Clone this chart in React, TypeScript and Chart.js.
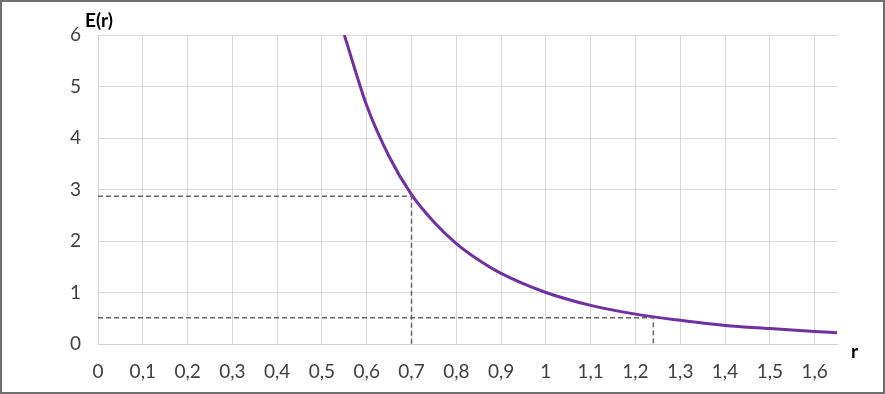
import React, { useEffect, useRef } from "react";
import { Chart, registerables } from "chart.js";

Chart.register(...registerables);

const rValues = [0.55, 0.6, 0.65, 0.7, 0.75, 0.8, 0.85, 0.9, 1.0, 1.1, 1.2, 1.3, 1.4, 1.5, 1.6, 1.65];
const eValues = [6.0, 4.63, 3.64, 2.9, 2.37, 1.95, 1.63, 1.37, 1.0, 0.75, 0.58, 0.46, 0.36, 0.3, 0.245, 0.22];

const xTickValues = [0, 0.1, 0.2, 0.3, 0.4, 0.5, 0.6, 0.7, 0.8, 0.9, 1, 1.1, 1.2, 1.3, 1.4, 1.5, 1.6];

const guide1X = [0, 0.7, 0.7];
const guide1Y = [2.87, 2.87, 0];
const guide2X = [0, 1.24, 1.24];
const guide2Y = [0.51, 0.51, 0];

const xMin = 0;
const xMax = 1.65;
const yMin = 0;
const yMax = 6;
const yStep = 1;

const toPoints = (xs: number[], ys: number[]) => xs.map((x, i) => ({ x, y: ys[i] }));

export default function App() {
  const canvasRef = useRef<HTMLCanvasElement | null>(null);

  useEffect(() => {
    document.body.style.margin = "0";
    const canvas = canvasRef.current;
    if (!canvas) return;
    const font = { family: "Lato, 'Open Sans', sans-serif", size: 19 };
    const guideStyle = {
      borderColor: "#666666",
      borderWidth: 1.5,
      borderDash: [5, 3],
      pointRadius: 0,
      showLine: true,
      fill: false,
      tension: 0,
    };
    const chart = new Chart(canvas, {
      type: "scatter",
      data: {
        datasets: [
          { ...guideStyle, data: toPoints(guide1X, guide1Y) },
          { ...guideStyle, data: toPoints(guide2X, guide2Y) },
          {
            data: toPoints(rValues, eValues),
            borderColor: "#7030A0",
            borderWidth: 3,
            pointRadius: 0,
            showLine: true,
            fill: false,
            cubicInterpolationMode: "monotone",
          },
        ],
      },
      options: {
        responsive: false,
        animation: false,
        layout: { padding: { left: 0, top: 35, right: 48, bottom: 0 } },
        plugins: { legend: { display: false }, tooltip: { enabled: false } },
        scales: {
          x: {
            type: "linear",
            min: xMin,
            max: xMax,
            afterFit: (s: any) => {
              s.height = 50;
            },
            afterBuildTicks: (s: any) => {
              s.ticks = xTickValues.map((value) => ({ value }));
            },
            ticks: {
              color: "#404040",
              font,
              padding: 16,
              maxRotation: 0,
              autoSkip: false,
              callback: (v: any) => String(Math.round(Number(v) * 10) / 10).replace(".", ","),
            },
            grid: { color: "#d9d9d9", lineWidth: 1, drawTicks: false },
            border: { color: "#d0d0d0" },
          },
          y: {
            type: "linear",
            min: yMin,
            max: yMax,
            afterFit: (s: any) => {
              s.width = 98;
            },
            ticks: {
              stepSize: yStep,
              color: "#404040",
              font,
              padding: 17,
            },
            grid: { color: "#d9d9d9", lineWidth: 1, drawTicks: false },
            border: { color: "#d0d0d0" },
          },
        },
      },
    });
    return () => chart.destroy();
  }, []);

  return (
    <div style={{ position: "fixed", left: 0, top: 0, width: 885, height: 394, background: "#fff" }}>
      <canvas ref={canvasRef} width={885} height={394} style={{ position: "absolute", left: 0, top: 0 }} />
      <span
        style={{
          position: "absolute",
          left: 85,
          top: 8,
          fontFamily: "Lato, 'Open Sans', sans-serif",
          fontWeight: 700,
          fontSize: 19,
          color: "#000",
        }}
      >
        E(r)
      </span>
      <span
        style={{
          position: "absolute",
          left: 851,
          top: 339,
          fontFamily: "Lato, 'Open Sans', sans-serif",
          fontWeight: 700,
          fontSize: 19,
          color: "#000",
        }}
      >
        r
      </span>
      <div
        style={{
          position: "absolute",
          left: 0,
          top: 0,
          width: 885,
          height: 394,
          boxSizing: "border-box",
          border: "2px solid #707070",
          pointerEvents: "none",
        }}
      />
    </div>
  );
}
